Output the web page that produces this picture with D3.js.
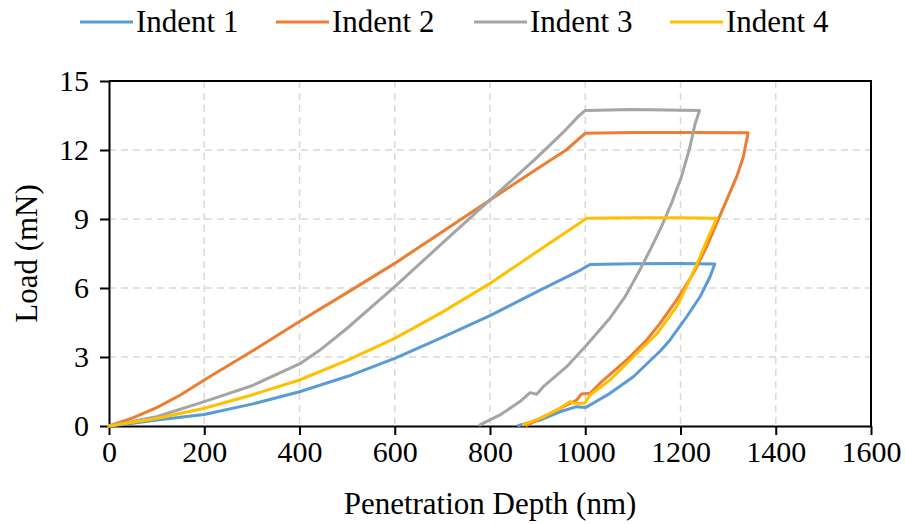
<!DOCTYPE html>
<html>
<head>
<meta charset="utf-8">
<script src="https://cdn.jsdelivr.net/npm/d3@7"></script>
<style>
  body { margin: 0; background: #fff; }
  text { font-family: "Liberation Serif", "Times New Roman", serif; fill: #000; }
</style>
</head>
<body>
<svg id="chart" width="905" height="524"></svg>
<script>
const seriesNames = ["Indent 1", "Indent 2", "Indent 3", "Indent 4"];
const seriesColors = ["#5B9BD5", "#ED7D31", "#A5A5A5", "#FFC000"];

// Indent 1: loading, hold, unloading
const depth1 = [0, 50, 100, 200, 300, 400, 500, 600, 700, 800, 900, 990, 1010, 1100, 1200, 1272,
  1262, 1241, 1213, 1178, 1157, 1101, 1052, 1010, 1000, 982, 947, 905, 860];
const load1 = [0, 0.12, 0.26, 0.5, 0.95, 1.49, 2.15, 2.94, 3.85, 4.8, 5.85, 6.78, 7.02, 7.05, 7.06, 7.04,
  6.49, 5.62, 4.75, 3.74, 3.25, 2.14, 1.42, 0.91, 0.8, 0.84, 0.62, 0.26, 0.02];

// Indent 2
const depth2 = [0, 50, 100, 150, 200, 300, 400, 500, 600, 700, 800, 900, 960, 1000, 1100, 1200, 1342,
  1332, 1318, 1300, 1279, 1255, 1227, 1192, 1157, 1129, 1087, 1031, 1010, 992, 982, 947, 912, 877];
const load2 = [0, 0.35, 0.8, 1.35, 2.0, 3.25, 4.54, 5.8, 7.07, 8.45, 9.83, 11.2, 12.0, 12.73, 12.76, 12.76, 12.75,
  11.71, 10.84, 9.97, 8.96, 7.8, 6.64, 5.48, 4.46, 3.74, 2.87, 1.86, 1.42, 1.39, 1.13, 0.77, 0.4, 0.02];

// Indent 3
const depth3 = [0, 100, 200, 300, 400, 443, 500, 600, 700, 800, 900, 960, 985, 1000, 1100, 1240,
  1230, 1220, 1202, 1181, 1160, 1136, 1111, 1083, 1052, 1003, 961, 912, 898, 884, 863, 821, 779];
const load3 = [0, 0.4, 1.06, 1.75, 2.7, 3.3, 4.25, 6.06, 7.95, 9.83, 11.7, 12.9, 13.45, 13.72, 13.76, 13.72,
  13.09, 12.14, 10.84, 9.68, 8.67, 7.65, 6.64, 5.6, 4.7, 3.52, 2.58, 1.71, 1.38, 1.45, 1.06, 0.48, 0.05];

// Indent 4
const depth4 = [0, 100, 200, 300, 400, 500, 600, 700, 800, 900, 990, 1003, 1100, 1200, 1276,
  1262, 1241, 1216, 1192, 1150, 1101, 1052, 1010, 999, 975, 968, 947, 912, 870];
const load4 = [0, 0.33, 0.77, 1.35, 2.0, 2.85, 3.81, 4.95, 6.2, 7.6, 8.85, 9.03, 9.05, 9.05, 9.03,
  8.38, 7.36, 6.2, 5.19, 4.0, 3.01, 2.0, 1.35, 0.99, 0.99, 1.06, 0.77, 0.4, 0.05];

const xTicks = [0, 200, 400, 600, 800, 1000, 1200, 1400, 1600];
const yTicks = [0, 3, 6, 9, 12, 15];

const depths = [depth1, depth2, depth3, depth4];
const loads = [load1, load2, load3, load4];

const svg = d3.select("#chart");
const plotLeft = 109, plotRight = 871, plotTop = 81, plotBottom = 426;

const x = d3.scaleLinear().domain([0, 1600]).range([plotLeft, plotRight]);
const y = d3.scaleLinear().domain([0, 15]).range([plotBottom, plotTop]);

// grid
svg.append("g")
  .selectAll("line")
  .data(xTicks.filter(d => d > 0 && d < 1600))
  .enter()
  .append("line")
  .attr("x1", d => x(d)).attr("x2", d => x(d))
  .attr("y1", plotTop).attr("y2", plotBottom)
  .attr("stroke", "#d9d9d9")
  .attr("stroke-width", 1.5)
  .attr("stroke-dasharray", "7,5");

svg.append("g")
  .selectAll("line")
  .data(yTicks.filter(d => d > 0 && d < 15))
  .enter()
  .append("line")
  .attr("x1", plotLeft).attr("x2", plotRight)
  .attr("y1", d => y(d)).attr("y2", d => y(d))
  .attr("stroke", "#d9d9d9")
  .attr("stroke-width", 1.5)
  .attr("stroke-dasharray", "7,5");

// axes
const xAxis = svg.append("g")
  .attr("transform", "translate(0," + plotBottom + ")")
  .call(d3.axisBottom(x).tickValues(xTicks).tickFormat(d3.format("d"))
    .tickSize(9).tickPadding(6).tickSizeOuter(0));
const yAxis = svg.append("g")
  .attr("transform", "translate(" + plotLeft + ",0)")
  .call(d3.axisLeft(y).tickValues(yTicks).tickFormat(d3.format("d"))
    .tickSize(9).tickPadding(11).tickSizeOuter(0));

[xAxis, yAxis].forEach(a => {
  a.select(".domain").attr("stroke", "#000").attr("stroke-width", 2);
  a.selectAll(".tick line").attr("stroke", "#000").attr("stroke-width", 2);
  a.selectAll(".tick text")
    .style("font-family", "'Liberation Serif', 'Times New Roman', serif")
    .style("font-size", "30px")
    .attr("fill", "#000");
});

// frame on top and right
svg.append("path")
  .attr("d", "M" + plotLeft + "," + plotTop + "H" + plotRight + "V" + plotBottom)
  .attr("fill", "none")
  .attr("stroke", "#000")
  .attr("stroke-width", 2);

// data lines
const line = d3.line()
  .x(d => x(d[0]))
  .y(d => y(d[1]));

depths.forEach((dep, i) => {
  const pts = dep.map((v, j) => [v, loads[i][j]]);
  svg.append("path")
    .datum(pts)
    .attr("d", line)
    .attr("fill", "none")
    .attr("stroke", seriesColors[i])
    .attr("stroke-width", 3)
    .attr("stroke-linejoin", "round")
    .attr("stroke-linecap", "round");
});

// axis titles
svg.append("text")
  .attr("x", (plotLeft + plotRight) / 2)
  .attr("y", 514)
  .attr("text-anchor", "middle")
  .style("font-size", "31px")
  .text("Penetration Depth (nm)");

svg.append("text")
  .attr("transform", "translate(37," + (plotTop + plotBottom) / 2 + ") rotate(-90)")
  .attr("text-anchor", "middle")
  .style("font-size", "31px")
  .text("Load (mN)");

// legend
const legend = svg.append("g");
const legendX = [80, 276, 474, 670];
seriesNames.forEach((name, i) => {
  const g = legend.append("g").attr("transform", "translate(" + legendX[i] + ",22)");
  g.append("line")
    .attr("x1", 0).attr("x2", 53)
    .attr("stroke", seriesColors[i])
    .attr("stroke-width", 3);
  g.append("text")
    .attr("x", 56)
    .attr("y", 10)
    .style("font-size", "31px")
    .text(name);
});
</script>
</body>
</html>
